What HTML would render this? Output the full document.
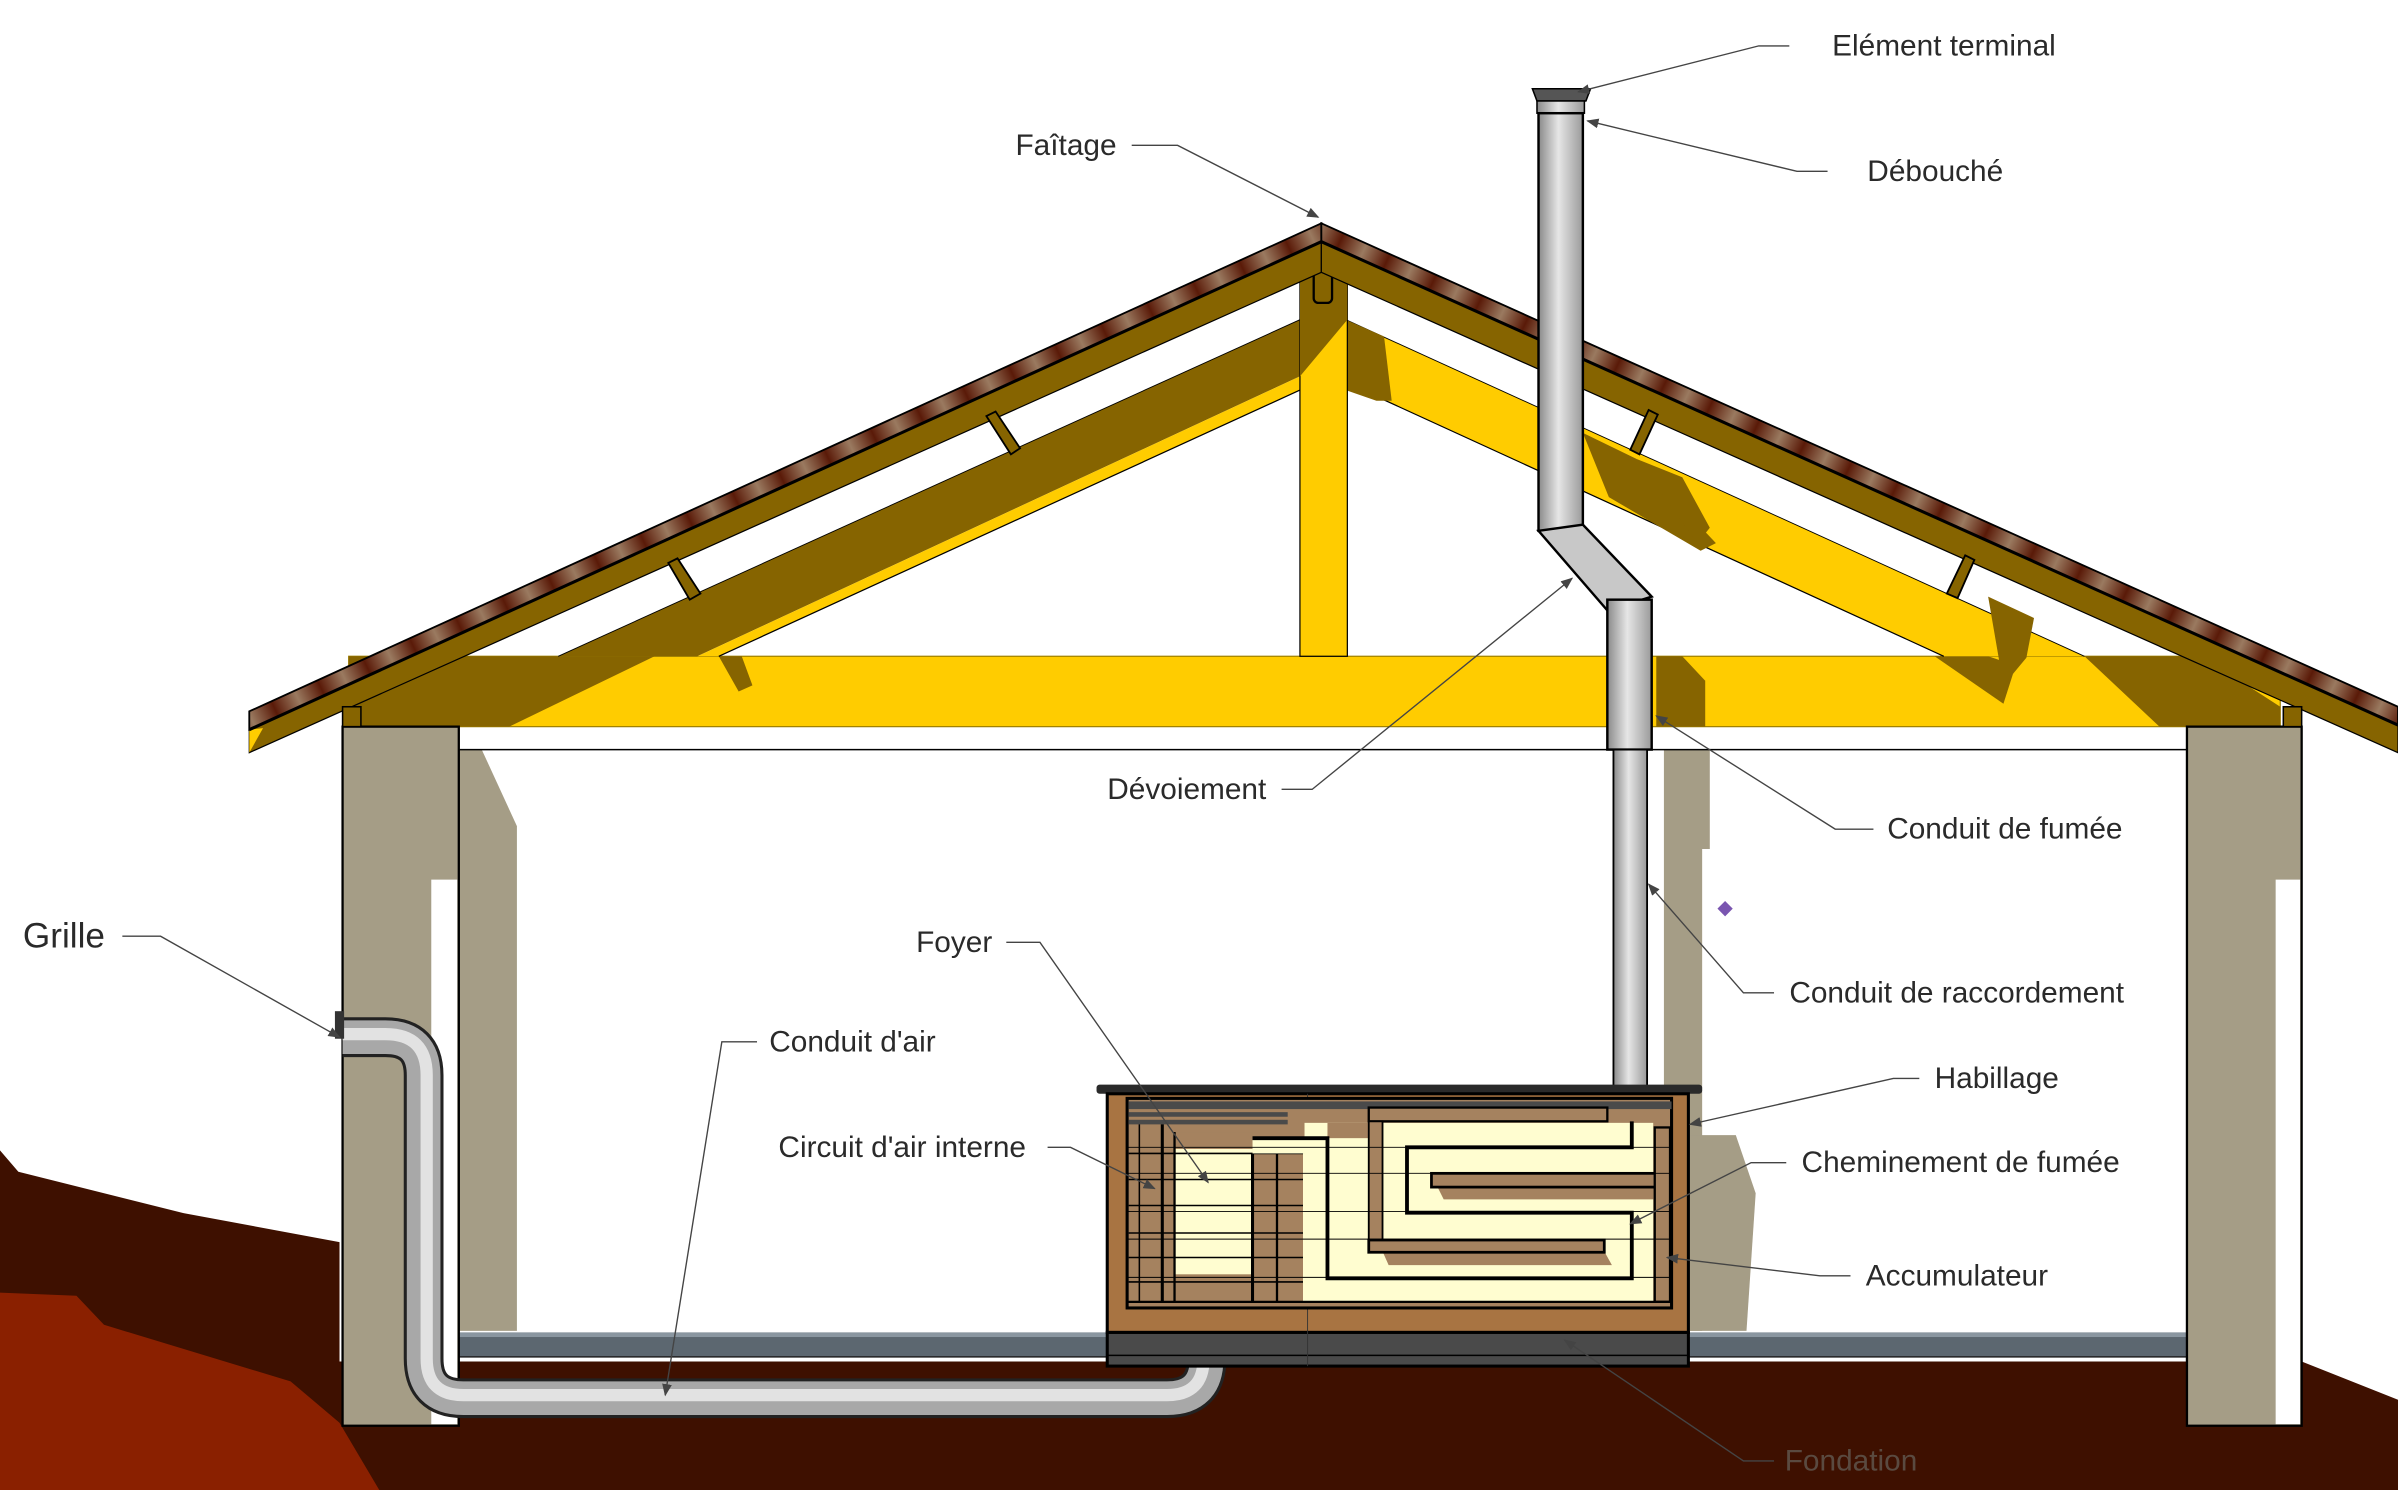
<!DOCTYPE html>
<html><head><meta charset="utf-8"><style>
html,body{margin:0;padding:0;background:#fff;}
svg{display:block;}
text{font-family:"Liberation Sans","DejaVu Sans",sans-serif;fill:#2a2a2a;}
</style></head><body>
<svg width="2398" height="1490" viewBox="0 0 1568 974" preserveAspectRatio="none" xmlns="http://www.w3.org/2000/svg">
<defs>
<marker id="ar" viewBox="0 0 10 10" refX="9" refY="5" markerWidth="8" markerHeight="8" orient="auto" markerUnits="userSpaceOnUse"><path d="M0,1 L10,5 L0,9 z" fill="#444"/></marker>
<linearGradient id="roofL" gradientUnits="userSpaceOnUse" x1="0" y1="0" x2="30" y2="-14" spreadMethod="repeat"><stop offset="0" stop-color="#5a1a08"/><stop offset="0.5" stop-color="#9a7a60"/><stop offset="1" stop-color="#5a1a08"/></linearGradient>
<linearGradient id="roofR" gradientUnits="userSpaceOnUse" x1="0" y1="0" x2="30" y2="14" spreadMethod="repeat"><stop offset="0" stop-color="#5a1a08"/><stop offset="0.5" stop-color="#9a7a60"/><stop offset="1" stop-color="#5a1a08"/></linearGradient>
<linearGradient id="pipeH" x1="0" y1="0" x2="1" y2="0"><stop offset="0" stop-color="#8a8a8a"/><stop offset="0.45" stop-color="#e6e6e6"/><stop offset="1" stop-color="#9a9a9a"/></linearGradient>
</defs>

<polygon points="0,752 12,766 120,793 222,812 222,890 1505,890 1568,915 1568,974 0,974" fill="#3e1000"/>
<polygon points="0,845 50,847 68,866 190,903 222,930 248,974 0,974" fill="#8a2000"/>

<polygon points="300,490 315,490 338,540 338,870 300,870" fill="#a59d86"/>
<rect x="290" y="765" width="10" height="25" fill="#a59d86"/>
<polygon points="1088,490 1118,490 1118,555 1113,555 1113,870 1088,870" fill="#a59d86"/>
<polygon points="1105,742 1135,742 1148,780 1142,870 1105,870" fill="#a59d86"/>

<line x1="300" y1="490" x2="1430" y2="490" stroke="#000" stroke-width="1"/>

<rect x="300" y="871" width="1130" height="16" fill="#5c6770"/>
<rect x="300" y="871" width="1130" height="3" fill="#8a96a0"/>
<line x1="300" y1="887" x2="1430" y2="887" stroke="#222" stroke-width="1"/>

<rect x="228" y="429" width="1263" height="46" fill="#ffcc00" stroke="#a08000" stroke-width="0.8"/>
<polygon points="228,429 428,429 333,475 228,475" fill="#866400"/>
<polygon points="1363,429 1440,429 1491,462 1491,475 1412,475" fill="#866400"/>
<polygon points="1083,429 1100,429 1115,445 1115,475 1083,475" fill="#866400"/>
<polygon points="1265,429 1300,429 1318,435 1310,460" fill="#866400"/>
<polygon points="470,429 485,429 492,448 483,452" fill="#866400"/>

<polygon points="365,429 850,209 850,246 456,429" fill="#866400"/>
<polygon points="456,429 850,246 850,255 470,429" fill="#ffcc00"/>
<line x1="470" y1="429" x2="850" y2="255" stroke="#000" stroke-width="0.8"/>
<line x1="365" y1="429" x2="850" y2="209" stroke="#000" stroke-width="0.6"/>

<polygon points="880,209 1363,429 1271,429 880,250" fill="#ffcc00"/>
<line x1="880" y1="250" x2="1271" y2="429" stroke="#000" stroke-width="0.8"/>
<line x1="880" y1="209" x2="1363" y2="429" stroke="#000" stroke-width="0.6"/>
<polygon points="880,209 905,220 910,262 900,262 880,255" fill="#866400"/>
<polygon points="1035,283 1070,300 1122,355 1112,360 1052,325" fill="#866400"/>
<polygon points="1070,300 1100,312 1118,345 1110,355" fill="#866400"/>
<polygon points="1300,390 1330,404 1325,430 1310,448" fill="#866400"/>

<rect x="850" y="172" width="31" height="257" fill="#ffcc00" stroke="#000" stroke-width="0.8"/>
<polygon points="850,172 881,172 881,209 850,246" fill="#866400"/>
<rect x="859" y="176" width="12" height="22" rx="3" fill="#866400" stroke="#000" stroke-width="1.5"/>

<polygon points="864,158 163,477 163,492 864,178" fill="#866400" stroke="#000" stroke-width="0.8"/>
<polygon points="864,158 1568,474 1568,492 864,178" fill="#866400" stroke="#000" stroke-width="0.8"/>
<polygon points="163,477 172,476 163,492" fill="#ffcc00"/>
<polygon points="864,146 163,465 163,477 864,158" fill="url(#roofL)" stroke="#000" stroke-width="1.2"/>
<polygon points="864,146 1568,462 1568,474 864,158" fill="url(#roofR)" stroke="#000" stroke-width="1.2"/>
<line x1="864" y1="158" x2="163" y2="477" stroke="#000" stroke-width="2"/>
<line x1="864" y1="158" x2="1568" y2="474" stroke="#000" stroke-width="2"/>

<g fill="#866400" stroke="#000" stroke-width="1.2">
<polygon points="437,368 443,365 458,388 451,392"/>
<polygon points="645,272 651,269 667,293 661,297"/>
<polygon points="1078,268 1084,271 1072,297 1066,294"/>
<polygon points="1285,363 1291,366 1280,391 1273,388"/>
</g>

<rect x="224" y="475" width="76" height="457" fill="#a59d86" stroke="#000" stroke-width="1.5"/>
<rect x="282" y="575" width="17" height="356" fill="#fff"/>
<rect x="1430" y="475" width="75" height="457" fill="#a59d86" stroke="#000" stroke-width="1.5"/>
<rect x="1488" y="575" width="16" height="356" fill="#fff"/>
<rect x="224" y="462" width="12" height="13" fill="#866400" stroke="#000" stroke-width="1"/>
<rect x="1493" y="462" width="12" height="13" fill="#866400" stroke="#000" stroke-width="1"/>

<path d="M224 678 H252 Q277 678 277 703 V888 Q277 914 303 914 H763 Q789 914 789 888 V852" fill="none" stroke="#222" stroke-width="26"/>
<path d="M224 678 H252 Q277 678 277 703 V888 Q277 914 303 914 H763 Q789 914 789 888 V852" fill="none" stroke="#a8a8a8" stroke-width="22"/>
<path d="M224 676 H252 Q279 676 279 703 V888 Q279 912 303 912 H763 Q787 912 787 888 V852" fill="none" stroke="#e2e2e2" stroke-width="8"/>
<rect x="219" y="661" width="6" height="18" fill="#333"/>
<rect x="775" y="850" width="28" height="5" fill="#333"/>

<polygon points="1002,58 1040,58 1037,66 1005,66" fill="#555" stroke="#000" stroke-width="1"/>
<rect x="1005" y="66" width="31" height="8" fill="url(#pipeH)" stroke="#000" stroke-width="1"/>
<rect x="1006" y="74" width="29" height="273" fill="url(#pipeH)" stroke="#000" stroke-width="1.6"/>
<polygon points="1006,347 1035,343 1080,390 1051,399" fill="#c8c8c8" stroke="#000" stroke-width="1.6"/>
<rect x="1051" y="392" width="29" height="98" fill="url(#pipeH)" stroke="#000" stroke-width="1.6"/>
<rect x="1055" y="490" width="22" height="244" fill="url(#pipeH)" stroke="#000" stroke-width="1.2"/>

<rect x="717" y="709" width="396" height="6" rx="2" fill="#2a2a2a"/>
<rect x="724" y="715" width="380" height="156" fill="#a87442" stroke="#000" stroke-width="2"/>
<rect x="724" y="871" width="380" height="22" fill="#4a4a4a" stroke="#000" stroke-width="2"/>
<line x1="724" y1="886" x2="1104" y2="886" stroke="#000" stroke-width="1"/>
<line x1="855" y1="715" x2="855" y2="893" stroke="#333" stroke-width="0.6"/>
<rect x="737" y="718" width="356" height="137" fill="#a5825f" stroke="#000" stroke-width="2"/>
<rect x="738" y="720" width="355" height="5" fill="#4a4a4a"/>
<rect x="738" y="727" width="104" height="3" fill="#4a4a4a"/>
<rect x="738" y="732" width="104" height="3" fill="#4a4a4a"/>
<rect x="768" y="751" width="51" height="82" fill="#fffdd0"/>
<rect x="763" y="740" width="56" height="11" fill="#a5825f"/>
<g stroke="#000" stroke-width="1">
<line x1="738" y1="754" x2="852" y2="754"/><line x1="738" y1="771" x2="852" y2="771"/>
<line x1="738" y1="788" x2="852" y2="788"/><line x1="738" y1="806" x2="852" y2="806"/>
<line x1="738" y1="822" x2="852" y2="822"/><line x1="738" y1="838" x2="852" y2="838"/>
<line x1="760" y1="735" x2="760" y2="851" stroke-width="2"/><line x1="768" y1="740" x2="768" y2="851" stroke-width="1.5"/>
<line x1="819" y1="754" x2="819" y2="851" stroke-width="2"/><line x1="835" y1="754" x2="835" y2="851" stroke-width="1.5"/>
<line x1="745" y1="735" x2="745" y2="851"/>
</g>
<rect x="853" y="734" width="228" height="117" fill="#fffdd0"/>
<rect x="819" y="744" width="49" height="10" fill="#fffdd0"/>
<rect x="852" y="754" width="16" height="97" fill="#fffdd0"/>
<rect x="868" y="734" width="27" height="10" fill="#a5825f"/>
<rect x="895" y="724" width="156" height="9" fill="#a5825f" stroke="#000" stroke-width="1.5"/>
<rect x="895" y="733" width="9" height="78" fill="#a5825f" stroke="#000" stroke-width="1.2"/>
<polygon points="904,818 1049,818 1054,827 908,827" fill="#a5825f"/>
<rect x="895" y="810.6" width="154" height="8" fill="#a5825f" stroke="#000" stroke-width="1.8"/>
<polygon points="940,776 1090,776 1090,784 944,784" fill="#a5825f"/>
<rect x="936" y="767" width="156" height="9" fill="#a5825f" stroke="#000" stroke-width="1.8"/>
<rect x="1082" y="737" width="10" height="114" fill="#a5825f" stroke="#000" stroke-width="1.5"/>
<path d="M1067,733 V750 H920 V792.7 H1067 V835.6 H868 V744 H819" fill="none" stroke="#000" stroke-width="2.5"/>
<g stroke="#000" stroke-width="0.6">
<line x1="737" y1="750" x2="1093" y2="750"/><line x1="737" y1="767" x2="1093" y2="767"/>
<line x1="737" y1="792" x2="1093" y2="792"/><line x1="737" y1="810" x2="1093" y2="810"/>
<line x1="737" y1="835" x2="1093" y2="835"/>
</g>
<line x1="737" y1="851" x2="1093" y2="851" stroke="#000" stroke-width="1.5"/>

<g stroke="#444" stroke-width="0.9" fill="none">
<polyline points="1170,30 1150,30 1032,60" marker-end="url(#ar)"/>
<polyline points="1195,112 1175,112 1038,79" marker-end="url(#ar)"/>
<polyline points="740,95 770,95 862,142" marker-end="url(#ar)"/>
<polyline points="838,516 858,516 1028,378" marker-end="url(#ar)"/>
<polyline points="1225,542 1200,542 1083,468" marker-end="url(#ar)"/>
<polyline points="1160,649 1140,649 1078,578" marker-end="url(#ar)"/>
<polyline points="1255,705 1238,705 1105,735" marker-end="url(#ar)"/>
<polyline points="1168,760 1145,760 1066,800" marker-end="url(#ar)"/>
<polyline points="1210,834 1190,834 1090,822" marker-end="url(#ar)"/>
<polyline points="1160,955 1140,955 1023,876" marker-end="url(#ar)"/>
<polyline points="80,612 105,612 222,678" marker-end="url(#ar)"/>
<polyline points="658,616 680,616 790,773" marker-end="url(#ar)"/>
<polyline points="495,681 472,681 435,912" marker-end="url(#ar)"/>
<polyline points="685,750 700,750 755,777" marker-end="url(#ar)"/>
</g>
<polygon points="1128,589 1133,594 1128,599 1123,594" fill="#7a55b0"/>

<g font-size="19.5" dominant-baseline="central">
<text x="1198" y="30">Elément terminal</text>
<text x="1221" y="112">Débouché</text>
<text x="664" y="95">Faîtage</text>
<text x="724" y="516">Dévoiement</text>
<text x="1234" y="542">Conduit de fumée</text>
<text x="1170" y="649">Conduit de raccordement</text>
<text x="1265" y="705">Habillage</text>
<text x="1178" y="760">Cheminement de fumée</text>
<text x="1220" y="834">Accumulateur</text>
<text x="1167" y="955" style="fill:#5a4a40">Fondation</text>
<text x="599" y="616">Foyer</text>
<text x="503" y="681">Conduit d'air</text>
<text x="509" y="750">Circuit d'air interne</text>
<text x="15" y="612" font-size="23">Grille</text>
</g>
</svg>
</body></html>
